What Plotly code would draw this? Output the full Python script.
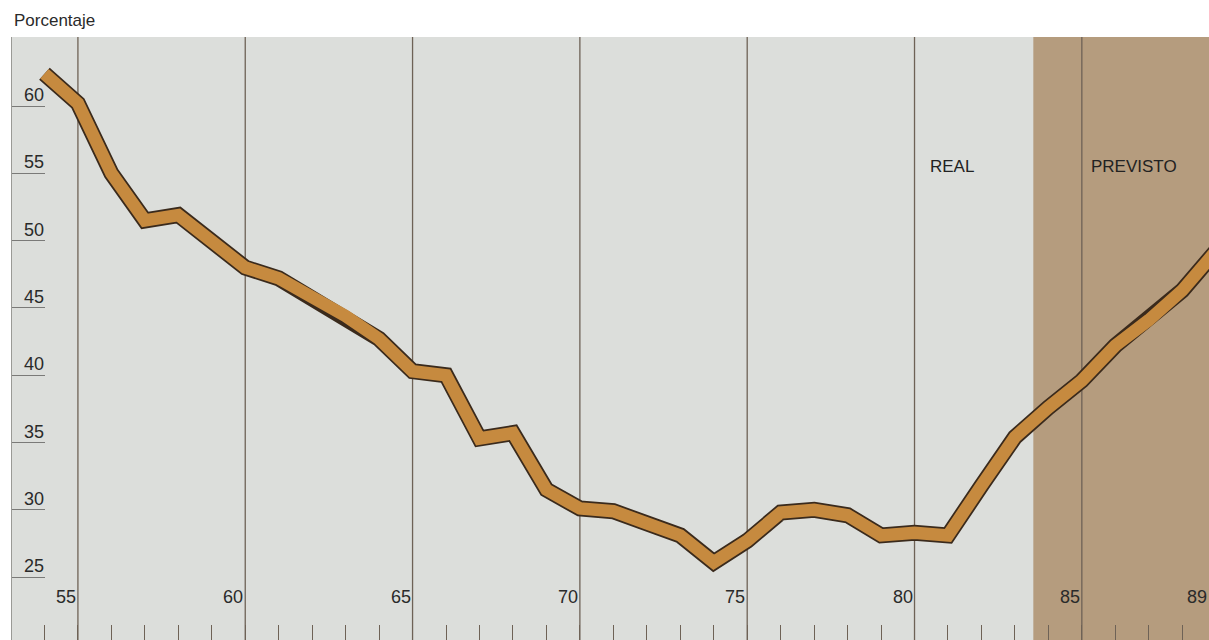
import plotly.graph_objects as go

# ---- data ----
years = list(range(1954, 1990))
values = [62.4, 60.2, 55.0, 51.5, 51.9, 50.0, 48.0, 47.2, 45.8, 44.4,
          42.7, 40.3, 40.0, 35.3, 35.7, 31.5, 30.1, 29.9, 29.0, 28.1,
          26.1, 27.7, 29.8, 30.0, 29.6, 28.1, 28.3, 28.1, 31.8, 35.4,
          37.6, 39.6, 42.2, 44.1, 46.3, 49.2]
grid_years = [1955, 1960, 1965, 1970, 1975, 1980, 1985]
year_label_vals = [1955, 1960, 1965, 1970, 1975, 1980, 1985, 1989]
year_label_text = ["55", "60", "65", "70", "75", "80", "85", "89"]
y_tick_vals = [25, 30, 35, 40, 45, 50, 55, 60]
y_tick_text = ["25", "30", "35", "40", "45", "50", "55", "60"]
forecast_start = 1983.55

x_range = [1953.03, 1988.8]
y_range = [20.33, 65.13]

fig = go.Figure()
# dark outline of the ribbon
fig.add_trace(go.Scatter(
    x=years, y=values, mode="lines",
    line=dict(color="#3a2a1c", width=16),
    hoverinfo="skip", showlegend=False,
))
# orange body of the ribbon
fig.add_trace(go.Scatter(
    x=years, y=values, mode="lines",
    line=dict(color="#c68a3f", width=12.5),
    hoverinfo="skip", showlegend=False,
))

shapes = [dict(type="rect", xref="x", yref="paper", x0=forecast_start, x1=x_range[1] + 1,
               y0=0, y1=1, fillcolor="#b59c7e", line=dict(width=0), layer="below")]
for g in grid_years:
    shapes.append(dict(type="line", xref="x", yref="paper", x0=g, x1=g, y0=0, y1=1,
                       line=dict(color="#6e6256", width=1.3), layer="below"))

annotations = [dict(text="Porcentaje", xref="paper", yref="paper", x=0, y=1,
                    xanchor="left", yanchor="bottom", yshift=5, showarrow=False,
                    font=dict(size=17, color="#2a2a2a"))]
for v, t in zip(y_tick_vals, y_tick_text):
    annotations.append(dict(text=t, xref="x", yref="y", x=years[0], y=v,
                            xanchor="right", yanchor="bottom", yshift=-1, xshift=2,
                            showarrow=False, font=dict(size=18, color="#2a2a2a")))
for v, t in zip(year_label_vals, year_label_text):
    if x_range[0] <= v <= x_range[1]:
        annotations.append(dict(text=t, xref="x", yref="paper", x=v, y=0.071,
                                xanchor="right", yanchor="middle", showarrow=False,
                                font=dict(size=18, color="#2a2a2a")))
    else:
        annotations.append(dict(text=t, xref="paper", yref="paper", x=1, y=0.071,
                                xanchor="right", yanchor="middle", showarrow=False,
                                font=dict(size=18, color="#2a2a2a")))
annotations.append(dict(text="REAL", xref="x", yref="y", x=1980.4, y=55.5,
                        xanchor="left", yanchor="middle", showarrow=False,
                        font=dict(size=17, color="#222222")))
annotations.append(dict(text="PREVISTO", xref="x", yref="y", x=1985.2, y=55.5,
                        xanchor="left", yanchor="middle", showarrow=False,
                        font=dict(size=17, color="#222222")))

fig.update_layout(
    width=1209, height=640,
    margin=dict(l=12, r=0, t=37, b=0),
    paper_bgcolor="white",
    plot_bgcolor="#dcdedb",
    font=dict(family="Liberation Sans, Arial, sans-serif"),
    shapes=shapes,
    annotations=annotations,
    xaxis=dict(range=x_range, tickmode="array", tickvals=years[:-1],
               ticks="inside", ticklen=15, tickcolor="#6e6256", tickwidth=1.3,
               showticklabels=False, showgrid=False, zeroline=False, showline=False),
    yaxis=dict(range=y_range, tickmode="array", tickvals=y_tick_vals,
               ticks="inside", ticklen=33, tickcolor="#7a7a78", tickwidth=1.3,
               showticklabels=False, showgrid=False, zeroline=False,
               showline=True, linecolor="#9a9a96", linewidth=1.3),
)

fig.write_html("out.html")
